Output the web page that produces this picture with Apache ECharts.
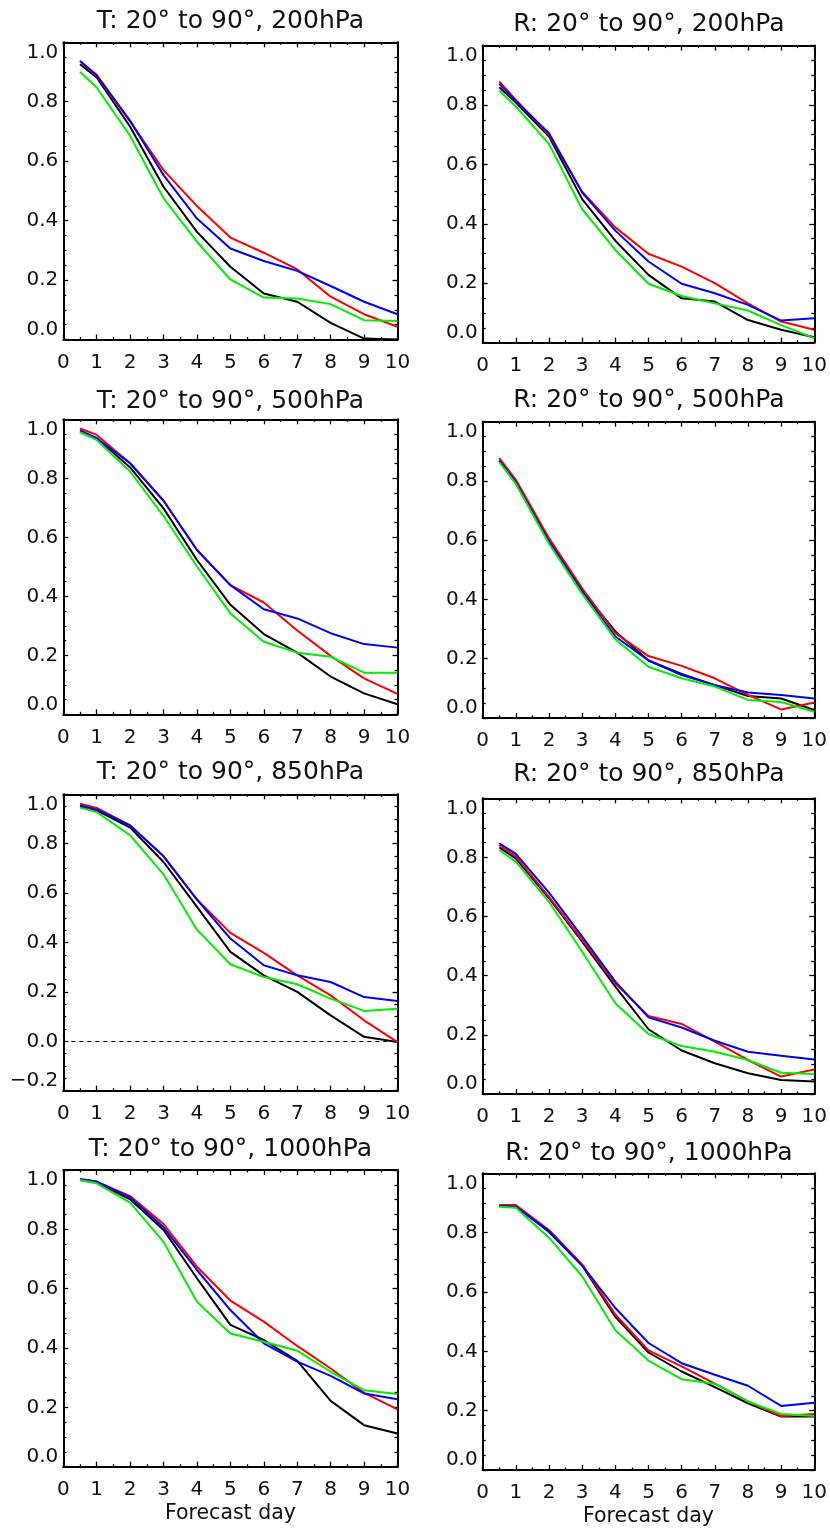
<!DOCTYPE html>
<html><head><meta charset="utf-8">
<script src="https://cdn.jsdelivr.net/npm/echarts@6/dist/echarts.min.js"></script>
<style>html,body{margin:0;padding:0;background:#fff}#c{width:830px;height:1530px}</style>
</head><body><div id="c"></div>
<script>
// Forecast days (x positions of every curve)
const days = [0.5, 1, 2, 3, 4, 5, 6, 7, 8, 9, 10];
const xTickLabels = ['0','1','2','3','4','5','6','7','8','9','10'];
const yTickLabels = ['0.0','0.2','0.4','0.6','0.8','1.0'];
const yTickLabels850 = ['\u22120.2','0.0','0.2','0.4','0.6','0.8','1.0'];
const seriesNames = ['black','red','blue','green'];
const seriesColors = ['#000000','#ff0000','#0000ff','#00ee00'];

// each panel: [black, red, blue, green]
const T200 = [
  [0.926,0.882,0.716,0.514,0.362,0.245,0.155,0.127,0.056,0.003,0.0],
  [0.937,0.887,0.733,0.570,0.449,0.343,0.292,0.236,0.144,0.085,0.043],
  [0.937,0.890,0.736,0.553,0.407,0.306,0.264,0.231,0.180,0.127,0.085],
  [0.901,0.848,0.685,0.475,0.329,0.202,0.141,0.138,0.119,0.065,0.062]
];
const R200 = [
  [0.860,0.808,0.694,0.483,0.343,0.228,0.149,0.138,0.076,0.043,0.018],
  [0.879,0.817,0.699,0.508,0.388,0.299,0.256,0.200,0.132,0.071,0.043],
  [0.871,0.814,0.705,0.505,0.377,0.273,0.198,0.166,0.127,0.074,0.082],
  [0.848,0.795,0.669,0.449,0.312,0.198,0.157,0.132,0.108,0.059,0.015]
];
const T500 = [
  [0.958,0.936,0.837,0.698,0.523,0.371,0.272,0.209,0.128,0.071,0.034],
  [0.969,0.947,0.851,0.724,0.557,0.438,0.379,0.284,0.198,0.122,0.069],
  [0.962,0.936,0.851,0.724,0.557,0.438,0.356,0.325,0.275,0.238,0.226],
  [0.956,0.930,0.823,0.672,0.501,0.342,0.246,0.209,0.195,0.141,0.141]
];
const R500 = [
  [0.868,0.793,0.596,0.430,0.292,0.194,0.149,0.111,0.074,0.066,0.027],
  [0.877,0.804,0.607,0.438,0.286,0.209,0.176,0.134,0.078,0.029,0.052],
  [0.869,0.795,0.596,0.427,0.275,0.194,0.145,0.111,0.086,0.078,0.066],
  [0.864,0.790,0.588,0.419,0.266,0.173,0.134,0.106,0.061,0.054,0.021]
];
const T850 = [
  [0.951,0.935,0.865,0.726,0.544,0.362,0.267,0.200,0.105,0.018,-0.003],
  [0.962,0.945,0.874,0.749,0.574,0.439,0.358,0.267,0.186,0.085,-0.003],
  [0.955,0.939,0.874,0.749,0.574,0.416,0.308,0.267,0.240,0.179,0.163],
  [0.946,0.928,0.834,0.676,0.452,0.312,0.260,0.231,0.173,0.123,0.132]
];
const R850 = [
  [0.834,0.797,0.662,0.515,0.363,0.219,0.147,0.104,0.070,0.047,0.042],
  [0.842,0.803,0.667,0.521,0.374,0.264,0.237,0.177,0.115,0.059,0.083],
  [0.848,0.812,0.681,0.532,0.380,0.259,0.225,0.180,0.143,0.129,0.117],
  [0.825,0.786,0.650,0.481,0.307,0.203,0.162,0.143,0.115,0.072,0.068]
];
const T1000 = [
  [0.966,0.957,0.901,0.798,0.635,0.478,0.427,0.357,0.222,0.140,0.112],
  [0.970,0.961,0.912,0.818,0.674,0.560,0.489,0.407,0.331,0.249,0.193],
  [0.969,0.961,0.908,0.807,0.663,0.528,0.416,0.354,0.306,0.247,0.227],
  [0.966,0.955,0.890,0.758,0.556,0.449,0.421,0.391,0.320,0.258,0.245]
];
const R1000 = [
  [0.890,0.890,0.802,0.689,0.516,0.396,0.332,0.279,0.225,0.180,0.180],
  [0.893,0.893,0.809,0.693,0.524,0.403,0.349,0.291,0.231,0.182,0.189],
  [0.890,0.887,0.805,0.689,0.546,0.428,0.360,0.321,0.284,0.216,0.227],
  [0.887,0.884,0.783,0.653,0.471,0.369,0.306,0.291,0.231,0.189,0.182]
];

const FONT = '"DejaVu Sans", sans-serif';
const panels = [
  {title:'T: 20\u00b0 to 90\u00b0, 200hPa', data:T200, ymin:0, labels:yTickLabels, l:63.3, t:42.3, w:334.2, h:297.2, ty:21.5},
  {title:'R: 20\u00b0 to 90\u00b0, 200hPa', data:R200, ymin:0, labels:yTickLabels, l:482.7, t:45.6, w:332.3, h:297.0, ty:24},
  {title:'T: 20\u00b0 to 90\u00b0, 500hPa', data:T500, ymin:0, labels:yTickLabels, l:63.3, t:419.3, w:334.2, h:295.0, ty:401},
  {title:'R: 20\u00b0 to 90\u00b0, 500hPa', data:R500, ymin:0, labels:yTickLabels, l:482.7, t:421.7, w:332.3, h:296.3, ty:400},
  {title:'T: 20\u00b0 to 90\u00b0, 850hPa', data:T850, ymin:-0.2, labels:yTickLabels850, l:63.3, t:794.3, w:334.2, h:296.4, ty:772, zero:true},
  {title:'R: 20\u00b0 to 90\u00b0, 850hPa', data:R850, ymin:0, labels:yTickLabels, l:482.7, t:798.3, w:332.3, h:295.7, ty:774},
  {title:'T: 20\u00b0 to 90\u00b0, 1000hPa', data:T1000, ymin:0, labels:yTickLabels, l:63.3, t:1170.0, w:334.2, h:296.7, ty:1149, xname:'Forecast day'},
  {title:'R: 20\u00b0 to 90\u00b0, 1000hPa', data:R1000, ymin:0, labels:yTickLabels, l:482.7, t:1173.3, w:332.3, h:296.7, ty:1153, xname:'Forecast day'}
];

const grid = [], xAxis = [], yAxis = [], series = [], graphic = [];
const axisLine = {show:true, onZero:false, lineStyle:{color:'#000', width:2}};
const tickStyle = {color:'#000', width:1.3};
panels.forEach((p, i) => {
  grid.push({left:p.l, top:p.t, width:p.w, height:p.h, containLabel:false});
  const xb = {
    type:'value', gridIndex:i, min:0, max:10, interval:1, position:'bottom',
    axisLine, splitLine:{show:false},
    axisTick:{show:true, inside:true, length:5, lineStyle:tickStyle},
    minorTick:{show:true, splitNumber:2, length:2.5, lineStyle:tickStyle},
    axisLabel:{show:true, margin:13, fontFamily:FONT, fontSize:20, color:'#111',
      formatter:(v) => xTickLabels[Math.round(v)]}
  };
  if (p.xname) {
    Object.assign(xb, {name:p.xname, nameLocation:'middle', nameGap:36,
      nameTextStyle:{fontFamily:FONT, fontSize:20.5, color:'#111'}});
  }
  xAxis.push(xb);
  xAxis.push({
    type:'value', gridIndex:i, min:0, max:10, interval:1, position:'top',
    axisLine, splitLine:{show:false}, axisLabel:{show:false},
    axisTick:{show:true, inside:true, length:5, lineStyle:tickStyle},
    minorTick:{show:true, splitNumber:2, length:2.5, lineStyle:tickStyle}
  });
  const yl = p.labels;
  const ymin = p.ymin;
  yAxis.push({
    type:'value', gridIndex:i, min:ymin, max:1, interval:0.2, position:'left',
    axisLine, splitLine:{show:false},
    axisTick:{show:true, inside:true, length:5, lineStyle:tickStyle},
    minorTick:{show:true, splitNumber:4, length:3, lineStyle:tickStyle},
    axisLabel:{show:true, margin:5, fontFamily:FONT, fontSize:20, color:'#111',
      verticalAlignMinLabel:'bottom', verticalAlignMaxLabel:'top',
      formatter:(v) => yl[Math.round((v - ymin) / 0.2)]}
  });
  yAxis.push({
    type:'value', gridIndex:i, min:ymin, max:1, interval:0.2, position:'right',
    axisLine, splitLine:{show:false}, axisLabel:{show:false},
    axisTick:{show:true, inside:true, length:5, lineStyle:tickStyle},
    minorTick:{show:true, splitNumber:4, length:3, lineStyle:tickStyle}
  });
  p.data.forEach((vals, k) => {
    const s = {
      type:'line', name:seriesNames[k], xAxisIndex:2*i, yAxisIndex:2*i,
      data: days.map((d, j) => [d, vals[j]]),
      showSymbol:false, symbol:'none', smooth:false,
      lineStyle:{color:seriesColors[k], width:2}, itemStyle:{color:seriesColors[k]},
      animation:false, silent:true, z:3
    };
    if (p.zero && k === 0) {
      s.markLine = {silent:true, symbol:'none', animation:false,
        label:{show:false},
        lineStyle:{color:'#000', width:1, type:[4,4]},
        data:[{yAxis:0}]};
    }
    series.push(s);
  });
  graphic.push({type:'text', x:p.l + p.w/2, y:p.ty, silent:true,
    style:{text:p.title, fill:'#111', font:'25px ' + FONT, textAlign:'center', textVerticalAlign:'middle'}});
});

const chart = echarts.init(document.getElementById('c'), null, {renderer:'canvas'});
chart.setOption({animation:false, backgroundColor:'#fff', grid, xAxis, yAxis, series, graphic});
</script></body></html>
